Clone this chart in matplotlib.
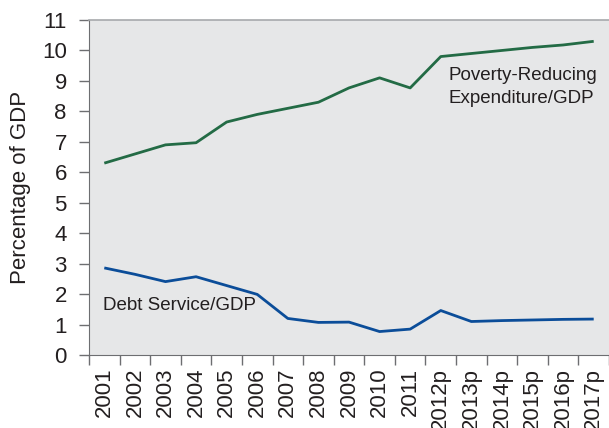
import matplotlib
matplotlib.use('Agg')
import matplotlib.pyplot as plt
import numpy as np

plt.rcParams['font.family'] = ['Liberation Sans', 'DejaVu Sans']

# Dane
lata = ['2001', '2002', '2003', '2004', '2005', '2006', '2007', '2008', '2009',
        '2010', '2011', '2012p', '2013p', '2014p', '2015p', '2016p', '2017p']
wydatki = [6.3, 6.6, 6.9, 6.97, 7.65, 7.9, 8.1, 8.3, 8.77,
           9.1, 8.77, 9.8, 9.9, 10.0, 10.1, 10.18, 10.3]
dlug = [2.86, 2.65, 2.41, 2.57, 2.28, 1.99, 1.2, 1.07, 1.08,
        0.77, 0.85, 1.46, 1.1, 1.13, 1.15, 1.17, 1.18]

kolor_txt = '#231f20'
kolor_osi = '#6d6e71'

fig = plt.figure(figsize=(6.09, 4.28), dpi=100)
ax = fig.add_axes([89/609, 73/428, 1 - 89/609, 335/428])
ax.set_facecolor('#e6e7e8')

x = np.arange(len(lata))
ax.plot(x, wydatki, color='#236b45', lw=2.0, solid_capstyle='butt')
ax.plot(x, dlug, color='#0b4d99', lw=2.0, solid_capstyle='butt')

ax.set_xlim(-0.5, len(lata) - 0.5)
ax.set_ylim(0, 11)
ax.set_yticks(range(0, 12))
ax.set_xticks(x)
ax.set_xticklabels(lata, rotation=90, fontsize=16, color=kolor_txt)
ax.set_xticks(np.arange(-0.5, len(lata)), minor=True)
ax.tick_params(axis='x', which='major', length=0, pad=9)
ax.tick_params(axis='x', which='minor', length=7, width=1, color=kolor_osi)
ax.tick_params(axis='y', length=7, width=1, color=kolor_osi, labelsize=16,
               labelcolor=kolor_txt, pad=9)

ax.spines['right'].set_visible(False)
ax.spines['top'].set_color('#a7a9ac')
ax.spines['top'].set_linewidth(1.2)
ax.spines['left'].set_color(kolor_osi)
ax.spines['bottom'].set_color(kolor_osi)

ax.set_ylabel('Percentage of GDP', fontsize=16, color=kolor_txt, labelpad=8)

ax.text(11.25, 9.45, 'Poverty-Reducing\nExpenditure/GDP', fontsize=13.5,
        color=kolor_txt, va='top', ha='left', linespacing=1.45)
ax.text(-0.05, 1.35, 'Debt Service/GDP', fontsize=13.5, color=kolor_txt,
        va='bottom', ha='left')

fig.savefig('out.png', dpi=100)
